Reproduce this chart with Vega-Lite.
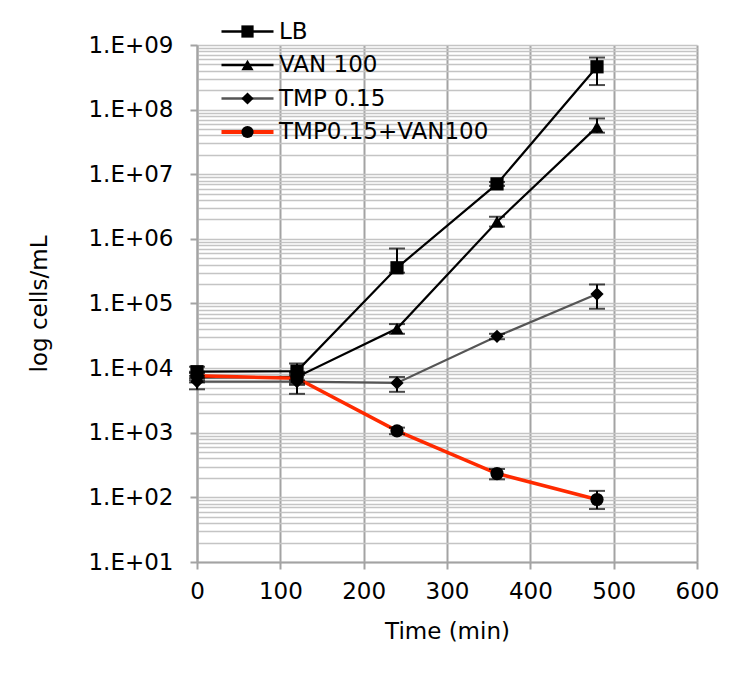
{
  "$schema": "https://vega.github.io/schema/vega-lite/v6.json",
  "width": 500,
  "height": 517,
  "autosize": {"type": "none"},
  "padding": {"left": 197, "top": 45, "right": 44, "bottom": 114},
  "background": "white",
  "config": {
    "view": {"stroke": null},
    "font": "DejaVu Sans",
    "axis": {"labelFont": "DejaVu Sans", "titleFont": "DejaVu Sans", "labelColor": "#000000", "titleColor": "#000000", "titleFontWeight": "normal"},
    "legend": {"labelFont": "DejaVu Sans", "labelColor": "#000000", "labelLimit": 400}
  },
  "data": {
    "values": [
      {"series": "LB", "t": 0, "v": 8800, "lo": 7000, "hi": 10500},
      {"series": "LB", "t": 120, "v": 9000, "lo": 6500, "hi": 11800},
      {"series": "LB", "t": 240, "v": 357000, "lo": 300000, "hi": 710000},
      {"series": "LB", "t": 360, "v": 7100000, "lo": 6600000, "hi": 7600000},
      {"series": "LB", "t": 480, "v": 460000000, "lo": 240000000, "hi": 640000000},
      {"series": "VAN 100", "t": 0, "v": 7200, "lo": 6000, "hi": 8400},
      {"series": "VAN 100", "t": 120, "v": 7300, "lo": 5800, "hi": 8800},
      {"series": "VAN 100", "t": 240, "v": 41000, "lo": 34000, "hi": 48000},
      {"series": "VAN 100", "t": 360, "v": 1840000, "lo": 1550000, "hi": 2200000},
      {"series": "VAN 100", "t": 480, "v": 54000000, "lo": 44000000, "hi": 73000000},
      {"series": "TMP 0.15", "t": 0, "v": 6200, "lo": 4700, "hi": 7600},
      {"series": "TMP 0.15", "t": 120, "v": 6200, "lo": 4000, "hi": 7800},
      {"series": "TMP 0.15", "t": 240, "v": 5900, "lo": 4300, "hi": 7300},
      {"series": "TMP 0.15", "t": 360, "v": 31000, "lo": 28000, "hi": 34000},
      {"series": "TMP 0.15", "t": 480, "v": 140000, "lo": 83000, "hi": 197000},
      {"series": "TMP0.15+VAN100", "t": 0, "v": 7600, "lo": 6500, "hi": 8800},
      {"series": "TMP0.15+VAN100", "t": 120, "v": 7000, "lo": 5500, "hi": 8400},
      {"series": "TMP0.15+VAN100", "t": 240, "v": 1070, "lo": 950, "hi": 1200},
      {"series": "TMP0.15+VAN100", "t": 360, "v": 234, "lo": 190, "hi": 275},
      {"series": "TMP0.15+VAN100", "t": 480, "v": 92.7, "lo": 66, "hi": 126}
    ]
  },
  "layer": [
    {
      "mark": {"type": "line", "clip": false},
      "encoding": {
        "x": {
          "field": "t", "type": "quantitative",
          "scale": {"domain": [0, 600], "nice": false},
          "axis": {
            "title": "Time (min)", "values": [0, 100, 200, 300, 400, 500, 600],
            "grid": true, "gridColor": "#a3a3a3", "gridWidth": 2,
            "domainColor": "#a3a3a3", "domainWidth": 2,
            "tickColor": "#a3a3a3", "tickWidth": 2, "tickSize": 7,
            "labelFontSize": 23, "labelPadding": 11, "labelFlush": false,
            "titleFontSize": 23, "titlePadding": 17
          }
        },
        "y": {
          "field": "v", "type": "quantitative", "title": "log cells/mL",
          "scale": {"type": "log", "domain": [10, 1000000000], "nice": false},
          "axis": {
            "title": "log cells/mL",
            "values": [10,20,30,40,50,60,70,80,90,100,200,300,400,500,600,700,800,900,1000,2000,3000,4000,5000,6000,7000,8000,9000,10000,20000,30000,40000,50000,60000,70000,80000,90000,100000,200000,300000,400000,500000,600000,700000,800000,900000,1000000,2000000,3000000,4000000,5000000,6000000,7000000,8000000,9000000,10000000,20000000,30000000,40000000,50000000,60000000,70000000,80000000,90000000,100000000,200000000,300000000,400000000,500000000,600000000,700000000,800000000,900000000,1000000000],
            "labelExpr": "abs(log(datum.value)/LN10 - round(log(datum.value)/LN10)) < 0.000001 ? '1.E+' + (round(log(datum.value)/LN10) < 10 ? '0' : '') + round(log(datum.value)/LN10) : ''",
            "labelOverlap": false, "labelBound": false, "labelFlush": false,
            "grid": true, "gridColor": "#c4c4c4", "gridWidth": 1.5,
            "domainColor": "#a3a3a3", "domainWidth": 2,
            "tickColor": "#a3a3a3", "tickWidth": 2, "tickSize": 7,
            "tickOpacity": {"condition": {"test": "abs(log(datum.value)/LN10 - round(log(datum.value)/LN10)) < 0.000001", "value": 1}, "value": 0},
            "labelFontSize": 23, "labelPadding": 17,
            "titleFontSize": 23, "titlePadding": 36
          }
        },
        "color": {
          "field": "series", "type": "nominal",
          "scale": {"domain": ["LB", "VAN 100", "TMP 0.15", "TMP0.15+VAN100"], "range": ["#000000", "#000000", "#555555", "#ff2a00"]},
          "legend": {
            "title": null, "orient": "none", "legendX": 39, "legendY": -25,
            "symbolType": "M-3.06,0H3.06", "symbolSize": 289, "symbolStrokeWidth": 2.5,
            "labelFontSize": 23, "labelOffset": 20, "rowPadding": 9.5, "labelLimit": 400,
            "encode": {"symbols": {"update": {"strokeWidth": {"signal": "datum.value === 'TMP0.15+VAN100' ? 4 : 2.5"}}}}
          }
        },
        "strokeWidth": {"condition": {"test": "datum.series === 'TMP0.15+VAN100'", "value": 3.5}, "value": 2.2}
      }
    },
    {
      "mark": {"type": "errorbar", "ticks": true, "size": 16, "thickness": 2, "color": "#000000"},
      "encoding": {
        "x": {"field": "t", "type": "quantitative", "title": "Time (min)"},
        "y": {"field": "lo", "type": "quantitative", "title": "log cells/mL"},
        "y2": {"field": "hi"}
      }
    },
    {
      "mark": {"type": "point", "filled": true, "size": 175, "color": "#000000", "opacity": 1},
      "encoding": {
        "x": {"field": "t", "type": "quantitative", "title": "Time (min)"},
        "y": {"field": "v", "type": "quantitative", "title": "log cells/mL"},
        "shape": {
          "field": "series", "type": "nominal",
          "sort": ["LB", "VAN 100", "TMP 0.15", "TMP0.15+VAN100"],
          "scale": {"range": ["square", "triangle-up", "diamond", "circle"]},
          "legend": {
            "title": null, "orient": "none", "legendX": 39, "legendY": -25,
            "symbolSize": 150, "symbolFillColor": "#000000", "symbolStrokeWidth": 0,
            "labelFontSize": 23, "labelOffset": 20, "rowPadding": 9.5, "labelOpacity": 0, "labelLimit": 400
          }
        }
      }
    }
  ]
}
